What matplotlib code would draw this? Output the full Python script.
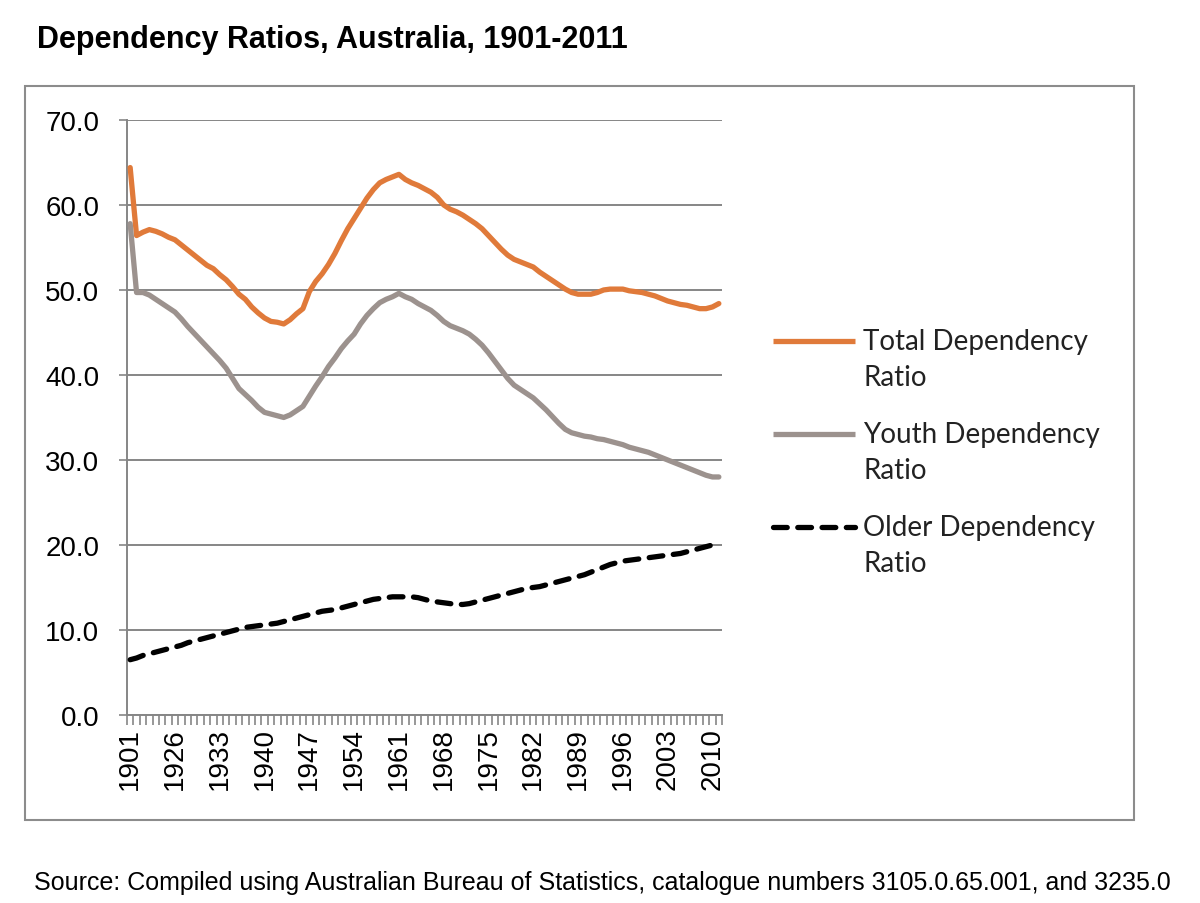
import matplotlib
matplotlib.use('Agg')
import matplotlib.pyplot as plt
from matplotlib.lines import Line2D
from matplotlib.patches import Rectangle

# categories: 1901, 1911, then every year 1921-2011
years = [1901, 1911] + list(range(1921, 2012))

total = [64.4, 56.4,
         56.8, 57.1, 56.9, 56.6, 56.2, 55.9, 55.3, 54.7, 54.1, 53.5,
         52.9, 52.5, 51.8, 51.2, 50.4, 49.5, 48.9, 48.0, 47.3, 46.7,
         46.3, 46.2, 46.0, 46.5, 47.2, 47.8, 49.8, 51.0, 51.9, 53.0,
         54.3, 55.8, 57.2, 58.4, 59.6, 60.8, 61.8, 62.6, 63.0, 63.3,
         63.6, 63.0, 62.6, 62.3, 61.9, 61.5, 60.9, 60.0, 59.5, 59.2,
         58.8, 58.3, 57.8, 57.2, 56.4, 55.6, 54.8, 54.1, 53.6, 53.3,
         53.0, 52.7, 52.1, 51.6, 51.1, 50.6, 50.1, 49.7, 49.5, 49.5,
         49.5, 49.7, 50.0, 50.1, 50.1, 50.1, 49.9, 49.8, 49.7, 49.5,
         49.3, 49.0, 48.7, 48.5, 48.3, 48.2, 48.0, 47.8, 47.8, 48.0,
         48.4]

youth = [57.8, 49.7,
         49.7, 49.4, 48.9, 48.4, 47.9, 47.4, 46.6, 45.7, 44.9, 44.1,
         43.3, 42.5, 41.7, 40.8, 39.6, 38.4, 37.7, 37.0, 36.2, 35.6,
         35.4, 35.2, 35.0, 35.3, 35.8, 36.3, 37.5, 38.7, 39.8, 41.0,
         42.0, 43.1, 44.0, 44.8, 46.0, 47.0, 47.8, 48.5, 48.9, 49.2,
         49.6, 49.2, 48.9, 48.4, 48.0, 47.6, 47.0, 46.3, 45.8, 45.5,
         45.2, 44.8, 44.2, 43.5, 42.6, 41.6, 40.6, 39.6, 38.8, 38.3,
         37.8, 37.3, 36.6, 35.9, 35.1, 34.3, 33.6, 33.2, 33.0, 32.8,
         32.7, 32.5, 32.4, 32.2, 32.0, 31.8, 31.5, 31.3, 31.1, 30.9,
         30.6, 30.3, 30.0, 29.7, 29.4, 29.1, 28.8, 28.5, 28.2, 28.0,
         28.0]

older = [6.5, 6.7,
         7.0, 7.2, 7.4, 7.6, 7.8, 8.0, 8.2, 8.5, 8.7, 8.9,
         9.1, 9.3, 9.5, 9.7, 9.9, 10.1, 10.3, 10.4, 10.5, 10.6,
         10.7, 10.8, 11.0, 11.2, 11.4, 11.6, 11.8, 12.0, 12.2, 12.3,
         12.4, 12.6, 12.8, 13.0, 13.2, 13.4, 13.6, 13.7, 13.8, 13.9,
         13.9, 13.9, 13.9, 13.8, 13.6, 13.4, 13.3, 13.2, 13.1, 13.0,
         13.0, 13.1, 13.3, 13.5, 13.7, 13.9, 14.1, 14.3, 14.5, 14.7,
         14.9, 15.0, 15.1, 15.3, 15.5, 15.7, 15.9, 16.1, 16.3, 16.5,
         16.8, 17.1, 17.4, 17.7, 17.9, 18.1, 18.2, 18.3, 18.4, 18.5,
         18.6, 18.7, 18.8, 18.9, 19.0, 19.2, 19.4, 19.6, 19.8, 20.0,
         20.1]

labels = ['Total Dependency\nRatio', 'Youth Dependency\nRatio', 'Older Dependency\nRatio']
colors = ['#E07A3A', '#9C928E', '#000000']
styles = ['-', '-', (0, (2.6, 2.0))]

grid_col = '#868686'

fig = plt.figure(figsize=(12, 9.04), dpi=100)
ax = fig.add_axes([0.1058, 0.2080, 0.4959, 0.6582])

x = list(range(len(years)))
for vals, col, ls in zip([total, youth, older], colors, styles):
    ax.plot(x, vals, color=col, linestyle=ls, linewidth=3.8,
            solid_capstyle='round', dash_capstyle='round', zorder=3)

ax.set_xlim(-0.5, len(years) - 0.5)
ax.set_ylim(0, 70)
ax.set_yticks(range(0, 71, 10))
ax.set_yticklabels(['%.1f' % v for v in range(0, 71, 10)],
                   fontsize=20, family='Liberation Sans')
ax.yaxis.grid(True, color=grid_col, linewidth=1.4)
ax.set_axisbelow(True)

tick_idx = list(range(0, len(years), 7))
ax.set_xticks(tick_idx)
ax.set_xticklabels([str(years[i]) for i in tick_idx], rotation=90,
                   fontsize=20, family='Liberation Sans')
ax.set_xticks([i - 0.5 for i in range(len(years) + 1)], minor=True)
ax.tick_params(axis='x', which='major', length=0, pad=9)
ax.tick_params(axis='x', which='minor', length=7, width=1.2, color=grid_col)
ax.tick_params(axis='y', length=6, width=1.2, color=grid_col, pad=14)

for s in ['top', 'right']:
    ax.spines[s].set_visible(False)
for s in ['left', 'bottom']:
    ax.spines[s].set_color(grid_col)
    ax.spines[s].set_linewidth(1.4)

# legend drawn by hand to match the Excel layout
leg_y = [342, 435, 528]
for lab, col, ls, yy in zip(labels, colors, styles, leg_y):
    fy = 1 - yy / 904
    fig.add_artist(Line2D([773 / 1200, 855 / 1200], [fy, fy], color=col,
                          linestyle=ls, linewidth=3.8,
                          dash_capstyle='round', solid_capstyle='butt'))
    fig.text(863 / 1200, 1 - (yy - 13) / 904, lab, fontsize=20, family='Lato',
             va='top', ha='left', color='#222222', linespacing=1.5)

# outer chart frame
fig.add_artist(Rectangle((25 / 1200, 1 - 821 / 904), (1134 - 25) / 1200,
                         (821 - 87) / 904, transform=fig.transFigure,
                         fill=False, edgecolor='#8c8c8c', linewidth=1.5))

fig.text(37 / 1200, 1 - 40 / 904, 'Dependency Ratios, Australia, 1901-2011',
         fontsize=22, fontweight='bold', family='Liberation Sans', va='center')
fig.text(34 / 1200, 1 - 883 / 904,
         'Source: Compiled using Australian Bureau of Statistics, catalogue numbers 3105.0.65.001, and 3235.0',
         fontsize=18, family='Liberation Sans', va='center')

fig.savefig('out.png', dpi=100)
